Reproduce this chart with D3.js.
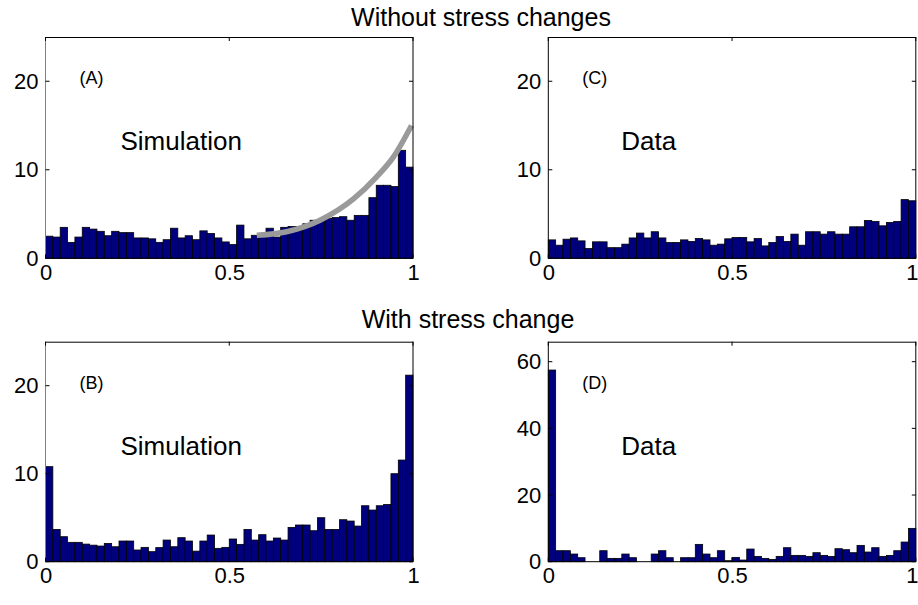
<!DOCTYPE html>
<html><head><meta charset="utf-8">
<script src="https://cdn.jsdelivr.net/npm/d3@7"></script>
<style>body{margin:0;background:#fff;} svg{display:block;font-family:"Liberation Sans",Arial,sans-serif;}</style>
</head><body>
<svg id="c" width="918" height="605"></svg>
<script>
// 50 bins on [0,1]
const binCount = 50;
const xTicks = [0, 0.5, 1];
const xTickLabels = ["0", "0.5", "1"];
const yTicksAB = [0, 10, 20];
const yTicksD = [0, 20, 40, 60];

const valuesA = [2.5,2.4,3.5,1.8,2.4,3.5,3.3,3.05,2.55,3.05,2.9,2.9,2.3,2.3,2.2,1.8,2.1,3.4,2.3,2.55,2.1,3.1,2.8,2.3,1.85,
                 1.55,3.75,2.2,2.6,2.45,3.4,2.4,3.5,3.6,3.6,3.9,4.3,4.35,4.5,4.6,4.7,4.3,4.85,4.85,6.85,8.25,8.25,8.1,12.2,10.3];
const valuesB = [10.8,3.67,2.84,2.2,2.2,2.0,1.88,1.78,2.08,1.7,2.35,2.35,1.33,1.63,1.14,1.6,2.46,1.7,2.73,2.35,1.2,2.35,3.03,1.52,1.63,
                 2.58,1.97,3.67,2.46,3.07,2.35,2.69,2.46,3.9,4.17,4.17,3.52,5.0,3.67,3.67,4.77,4.62,4.05,6.36,5.87,6.36,6.5,10.0,11.55,21.2];
const valuesC = [2.08,1.48,2.16,2.3,1.97,1.1,1.86,1.86,1.2,1.2,1.6,2.3,2.85,2.3,3.0,2.3,1.78,1.78,2.08,1.9,2.23,2.08,1.48,1.6,2.2,
                 2.35,2.35,1.86,2.23,1.4,1.78,2.46,1.9,2.73,1.48,3.0,3.0,2.73,3.0,2.73,2.73,3.56,3.56,4.28,4.17,3.67,4.05,4.17,6.63,6.5];
const valuesD = [57.5,3.3,3.3,2.3,1.2,0,0,3.3,1.0,1.0,2.3,1.2,0,0,2.3,3.3,1.2,0,1.2,1.2,5.2,2.3,1.2,3.3,0.3,
                 1.3,0.5,3.8,1.6,1.0,0.7,1.6,4.2,1.9,1.9,1.6,2.7,1.9,1.6,3.9,3.6,2.7,4.9,2.9,4.2,1.6,1.9,3.3,5.9,10.0];
// grey curve in panel A (x, value)
const curveA = [[0.575,2.6],[0.656,3.0],[0.747,4.3],[0.838,6.7],[0.901,9.2],[0.946,11.4],[0.996,15.0]];

const panels = [
  {id:"A", values:valuesA, ymax:25, yTicks:yTicksAB, left:45.5, top:37, w:367.5, h:221.3, label:"(A)", text:"Simulation", leftGray:true, curve:curveA},
  {id:"C", values:valuesC, ymax:25, yTicks:yTicksAB, left:548.3, top:37, w:367.5, h:221.3, label:"(C)", text:"Data"},
  {id:"B", values:valuesB, ymax:25, yTicks:yTicksAB, left:45.5, top:341.7, w:367.5, h:220, label:"(B)", text:"Simulation", leftGray:true},
  {id:"D", values:valuesD, ymax:66, yTicks:yTicksD, left:548.3, top:341.7, w:367.5, h:220, label:"(D)", text:"Data"}
];

const svg = d3.select("#c");

svg.append("text").attr("x",481).attr("y",26).attr("text-anchor","middle")
  .attr("font-size",25).text("Without stress changes");
svg.append("text").attr("x",468).attr("y",328).attr("text-anchor","middle")
  .attr("font-size",25).text("With stress change");

panels.forEach(p => {
  const g = svg.append("g").attr("transform",`translate(${p.left},${p.top})`);
  const x = d3.scaleLinear().domain([0,1]).range([0,p.w]);
  const y = d3.scaleLinear().domain([0,p.ymax]).range([p.h,0]);
  const bw = 1/binCount;

  g.append("rect").attr("width",p.w).attr("height",p.h).attr("fill","#fff");

  g.selectAll("rect.bar").data(p.values).join("rect").attr("class","bar")
    .attr("x",(d,i)=>x(i*bw)).attr("width",x(bw)-x(0))
    .attr("y",d=>y(d)).attr("height",d=>y(0)-y(d))
    .attr("fill","#00007f").attr("stroke","#000").attr("stroke-width",0.8);

  if (p.curve) {
    g.append("path").datum(p.curve)
      .attr("d", d3.line().x(d=>x(d[0])).y(d=>y(d[1])).curve(d3.curveMonotoneX))
      .attr("fill","none").attr("stroke","#9a9a9a").attr("stroke-width",5.5).attr("stroke-linecap","butt");
  }

  // box
  g.append("line").attr("x1",0).attr("x2",p.w).attr("y1",0.5).attr("y2",0.5).attr("stroke","#000");
  g.append("line").attr("x1",p.w).attr("x2",p.w).attr("y1",0).attr("y2",p.h).attr("stroke","#000");
  g.append("line").attr("x1",0).attr("x2",p.w).attr("y1",p.h).attr("y2",p.h).attr("stroke","#000");
  g.append("line").attr("x1",0).attr("x2",0).attr("y1",0).attr("y2",p.h).attr("stroke",p.leftGray?"#808080":"#000");

  // inward ticks
  const tl = 4;
  p.yTicks.forEach(t => {
    g.append("line").attr("x1",0).attr("x2",tl).attr("y1",y(t)).attr("y2",y(t)).attr("stroke","#000");
    g.append("line").attr("x1",p.w-tl).attr("x2",p.w).attr("y1",y(t)).attr("y2",y(t)).attr("stroke","#000");
  });
  xTicks.forEach(t => {
    g.append("line").attr("x1",x(t)).attr("x2",x(t)).attr("y1",0).attr("y2",tl).attr("stroke","#000");
    g.append("line").attr("x1",x(t)).attr("x2",x(t)).attr("y1",p.h-tl).attr("y2",p.h).attr("stroke","#000");
  });

  // tick labels
  const yAxis = d3.axisLeft(y).tickValues(p.yTicks).tickSize(0).tickPadding(7);
  const ya = g.append("g").call(yAxis);
  ya.select(".domain").remove();
  ya.selectAll("text").attr("font-size",22).attr("fill","#000").attr("font-family","Liberation Sans, Arial, sans-serif");

  const xAxis = d3.axisBottom(x).tickValues(xTicks).tickFormat((d,i)=>xTickLabels[i]).tickSize(0).tickPadding(6);
  const xa = g.append("g").attr("transform",`translate(0,${p.h})`).call(xAxis);
  xa.select(".domain").remove();
  xa.selectAll("text").attr("font-size",22).attr("fill","#000").attr("font-family","Liberation Sans, Arial, sans-serif")
    .attr("dx",(d)=> (d===1 && p.left>400) ? -4 : 0);

  g.append("text").attr("x",34).attr("y",47).attr("font-size",18).text(p.label);
  g.append("text").attr("x",p.text==="Data"?73:75).attr("y",113).attr("font-size",26).text(p.text);
});
</script>
</body></html>
